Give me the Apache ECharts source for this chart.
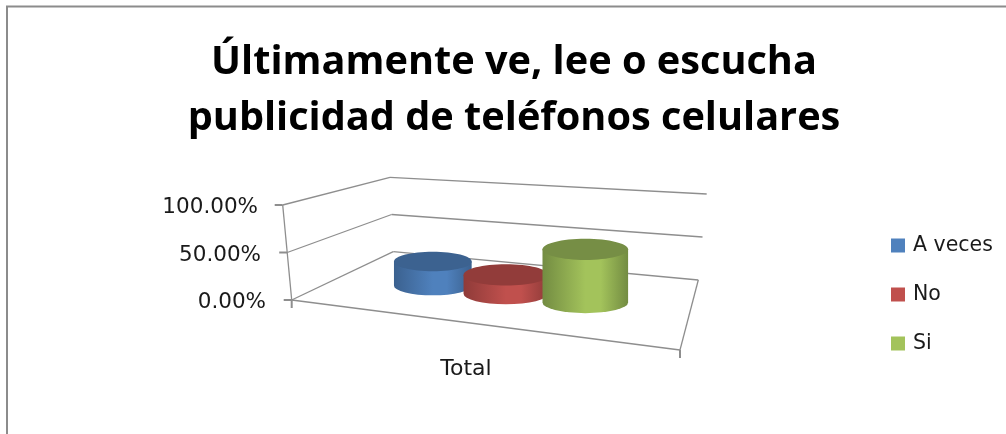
<!DOCTYPE html>
<html>
<head>
<meta charset="utf-8">
<style>html,body{margin:0;padding:0;background:#fff}#c{width:1006px;height:434px}</style>
<script src="https://cdn.jsdelivr.net/npm/echarts@6/dist/echarts.min.js"></script>
</head>
<body>
<div id="c"></div>
<script>
const categories = ['Total'];
const seriesNames = ['A veces', 'No', 'Si'];
const aVeces = [0.27];
const no = [0.20];
const si = [0.53];
const yTicks = [0, 0.5, 1];
const yLabelShift = { 0: 0, 0.5: 5, 1: 8 };

const FONT = 'DejaVu Sans';
const INK = '#1a1a1a';
const LINE = '#8e8e8e';

// Screen corners of the floor and of the 100% plane: front-left, front-right, back-right, back-left.
const floorQuad = [[291.7, 300], [680, 350], [698.3, 280], [393.3, 251.7]];
const topQuad = [[282.7, 205], [692, 215], [706.7, 194], [390, 177.3]];

// Unit square to quadrilateral homography.
function squareToQuad(q) {
  const [[x0, y0], [x1, y1], [x2, y2], [x3, y3]] = q;
  const dx1 = x1 - x2, dx2 = x3 - x2, dx3 = x0 - x1 + x2 - x3;
  const dy1 = y1 - y2, dy2 = y3 - y2, dy3 = y0 - y1 + y2 - y3;
  const det = dx1 * dy2 - dx2 * dy1;
  const g = (dx3 * dy2 - dx2 * dy3) / det;
  const h = (dx1 * dy3 - dx3 * dy1) / det;
  const a = x1 - x0 + g * x1, b = x3 - x0 + h * x3;
  const d = y1 - y0 + g * y1, e = y3 - y0 + h * y3;
  return (u, v) => {
    const w = g * u + h * v + 1;
    return [(a * u + b * v + x0) / w, (d * u + e * v + y0) / w];
  };
}
const floorAt = squareToQuad(floorQuad);
const topAt = squareToQuad(topQuad);

// u runs along the category axis, v into the depth, t up the value axis.
function project(u, v, t) {
  const f = floorAt(u, v), p = topAt(u, v);
  return [f[0] + (p[0] - f[0]) * t, f[1] + (p[1] - f[1]) * t];
}
function heightFraction(api, params, value) {
  const cs = params.coordSys;
  return (cs.y + cs.height - api.coord([0, value])[1]) / cs.height;
}

function renderFrame(params, api) {
  const children = [];
  const seg = (a, b, w) => children.push({
    type: 'line',
    shape: { x1: a[0], y1: a[1], x2: b[0], y2: b[1] },
    style: { stroke: LINE, lineWidth: w || 1.3 }
  });
  // floor outline
  seg(project(0, 0, 0), project(1, 0, 0));
  seg(project(1, 0, 0), project(1, 1, 0));
  // wall gridlines and value-axis ticks
  yTicks.forEach(v => {
    const t = heightFraction(api, params, v);
    const front = project(0, 0, t), back = project(0, 1, t), right = project(1, 1, t);
    seg(front, back);
    seg(back, right);
    seg([front[0] - 8, front[1]], front, 2);
  });
  // value-axis spine
  seg(project(0, 0, 0), project(0, 0, heightFraction(api, params, 1)));
  // category-axis stubs
  [0, 1].forEach(u => {
    const p = project(u, 0, 0);
    seg(p, [p[0], p[1] + 8], 2);
  });
  return { type: 'group', children };
}

function cylinderRenderer(slot, side, centre, top) {
  return function (params, api) {
    const cs = params.coordSys;
    const u = (api.coord([api.value(0), 0])[0] - cs.x) / cs.width + 0.018 + slot * 0.22;
    const v = 0.44;
    const t = heightFraction(api, params, api.value(1));
    const b = project(u, v, 0), a = project(u, v, t);
    const full = project(u, v, 1);
    const h = Math.hypot(full[0] - b[0], full[1] - b[1]);
    const rx = h * 0.392, ry = h * 0.098;
    const cx = b[0];
    const body = `M${cx - rx} ${a[1]}L${cx - rx} ${b[1]}A${rx} ${ry} 0 0 0 ${cx + rx} ${b[1]}L${cx + rx} ${a[1]}Z`;
    return {
      type: 'group',
      children: [
        {
          type: 'path',
          shape: { pathData: body, x: cx - rx, y: a[1], width: 2 * rx, height: b[1] + ry - a[1], layout: 'cover' },
          style: {
            fill: {
              type: 'linear', x: 0, y: 0, x2: 1, y2: 0,
              colorStops: [
                { offset: 0, color: side },
                { offset: 0.5, color: centre },
                { offset: 0.68, color: centre },
                { offset: 1, color: side }
              ]
            }
          }
        },
        { type: 'ellipse', shape: { cx, cy: a[1], rx, ry }, style: { fill: top } }
      ]
    };
  };
}

const palette = [
  { base: '#4f81bd', side: '#3b618f', top: '#3c6290' },
  { base: '#c0504d', side: '#8f3b39', top: '#923c3a' },
  { base: '#a3c35b', side: '#738c42', top: '#768e45' }
];
const values = [aVeces, no, si];

const chart = echarts.init(document.getElementById('c'));
chart.setOption({
  animation: false,
  backgroundColor: '#fff',
  title: {
    text: 'Últimamente ve, lee o escucha\npublicidad de teléfonos celulares',
    left: 514, top: 35, padding: 0, textAlign: 'center',
    textStyle: { fontFamily: 'Open Sans', fontSize: 39.7, fontWeight: 700, color: '#000', lineHeight: 56 }
  },
  legend: {
    data: seriesNames,
    orient: 'vertical',
    left: 891, top: 235, padding: 0,
    itemWidth: 14, itemHeight: 14, itemGap: 28,
    icon: 'rect',
    selectedMode: false,
    textStyle: { fontFamily: FONT, fontSize: 20.5, color: INK, padding: [0, 0, 0, 3] }
  },
  grid: { left: 291, top: 205, width: 350, height: 95 },
  xAxis: {
    type: 'category',
    data: categories,
    axisLine: { show: false },
    axisTick: { show: false },
    axisLabel: { margin: 58, fontFamily: FONT, fontSize: 22, color: INK }
  },
  yAxis: {
    type: 'value',
    min: 0, max: 1, interval: 0.5,
    axisLine: { show: false },
    axisTick: { show: false },
    splitLine: { show: false },
    axisLabel: {
      margin: 25,
      color: INK,
      fontFamily: FONT,
      fontSize: 21.5,
      formatter: v => `{s${yLabelShift[v]}|${(v * 100).toFixed(2)}%}`,
      rich: Object.fromEntries(yTicks.map(v => [
        's' + yLabelShift[v],
        { fontFamily: FONT, fontSize: 21.5, color: INK, padding: [5, yLabelShift[v], 0, 0] }
      ]))
    }
  },
  graphic: [{
    type: 'rect',
    shape: { x: 7, y: 6.5, width: 1100, height: 500 },
    style: { fill: 'none', stroke: '#8c8c8c', lineWidth: 2 },
    silent: true
  }],
  series: [
    {
      type: 'custom', name: 'frame', clip: false, z: 1,
      renderItem: renderFrame,
      data: [[categories[0], 0]]
    },
    ...seriesNames.map((name, i) => ({
      type: 'custom', name, clip: false, z: 2 + i,
      itemStyle: { color: palette[i].base },
      renderItem: cylinderRenderer(i - 1, palette[i].side, palette[i].base, palette[i].top),
      data: categories.map((c, k) => [c, values[i][k]])
    }))
  ]
});
</script>
</body>
</html>
